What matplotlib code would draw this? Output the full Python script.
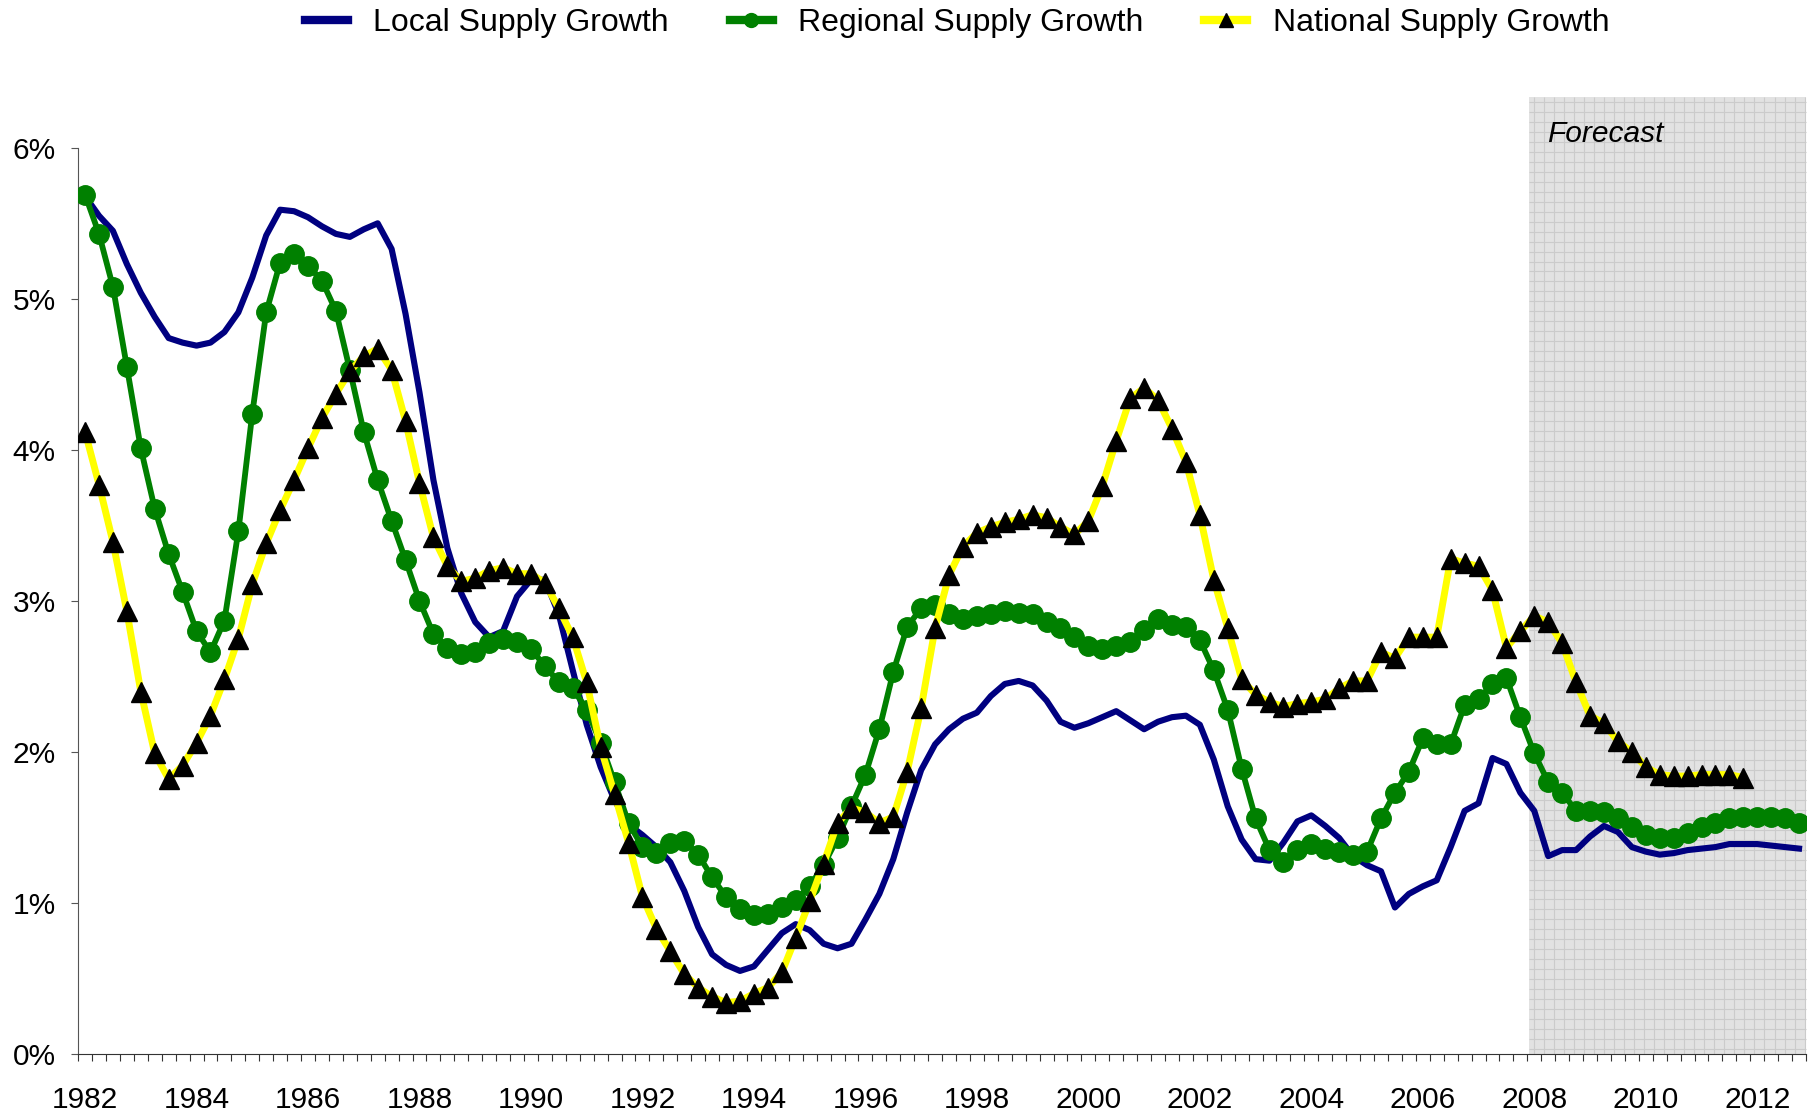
import numpy as np
import matplotlib
matplotlib.use('Agg')
import matplotlib.pyplot as plt
from matplotlib.lines import Line2D
from matplotlib.patches import Rectangle

plt.rcParams['font.family'] = ['Liberation Sans', 'DejaVu Sans']

# quarterly series, 1982 Q1 .. 2012 Q4 (in %)
local_growth = [5.68, 5.55, 5.45, 5.23, 5.04, 4.88, 4.74, 4.71, 4.69, 4.71,
                4.78, 4.91, 5.14, 5.42, 5.59, 5.58, 5.54, 5.48, 5.43, 5.41,
                5.46, 5.50, 5.33, 4.90, 4.38, 3.80, 3.35, 3.05, 2.86, 2.76,
                2.80, 3.03, 3.14, 3.14, 2.91, 2.54, 2.18, 1.90, 1.68, 1.52,
                1.45, 1.37, 1.27, 1.08, 0.84, 0.66, 0.59, 0.55, 0.58, 0.69,
                0.80, 0.86, 0.82, 0.73, 0.70, 0.73, 0.89, 1.06, 1.29, 1.60,
                1.88, 2.05, 2.15, 2.22, 2.26, 2.37, 2.45, 2.47, 2.44, 2.34,
                2.20, 2.16, 2.19, 2.23, 2.27, 2.21, 2.15, 2.20, 2.23, 2.24,
                2.18, 1.95, 1.64, 1.42, 1.29, 1.28, 1.40, 1.54, 1.58, 1.51,
                1.43, 1.31, 1.25, 1.21, 0.97, 1.06, 1.11, 1.15, 1.37, 1.61,
                1.66, 1.96, 1.92, 1.73, 1.61, 1.31, 1.35, 1.35, 1.44, 1.51,
                1.47, 1.37, 1.34, 1.32, 1.33, 1.35, 1.36, 1.37, 1.39, 1.39,
                1.39, 1.38, 1.37, 1.36]

regional_growth = [5.69, 5.43, 5.08, 4.55, 4.01, 3.61, 3.31, 3.06, 2.80, 2.66,
                   2.87, 3.46, 4.24, 4.91, 5.24, 5.30, 5.22, 5.12, 4.92, 4.53,
                   4.12, 3.80, 3.53, 3.27, 3.00, 2.78, 2.69, 2.65, 2.66, 2.72,
                   2.75, 2.73, 2.68, 2.57, 2.46, 2.42, 2.28, 2.06, 1.80, 1.53,
                   1.37, 1.33, 1.40, 1.41, 1.32, 1.17, 1.04, 0.96, 0.92, 0.93,
                   0.97, 1.02, 1.11, 1.25, 1.43, 1.64, 1.85, 2.15, 2.53, 2.83,
                   2.95, 2.97, 2.91, 2.88, 2.90, 2.91, 2.93, 2.92, 2.91, 2.86,
                   2.82, 2.76, 2.70, 2.68, 2.70, 2.73, 2.81, 2.88, 2.84, 2.83,
                   2.74, 2.54, 2.28, 1.89, 1.56, 1.35, 1.27, 1.35, 1.39, 1.36,
                   1.34, 1.32, 1.34, 1.56, 1.73, 1.87, 2.09, 2.05, 2.05, 2.31,
                   2.35, 2.45, 2.49, 2.23, 1.99, 1.80, 1.73, 1.61, 1.61, 1.60,
                   1.56, 1.50, 1.45, 1.43, 1.43, 1.46, 1.50, 1.53, 1.56, 1.57,
                   1.57, 1.57, 1.56, 1.53]

# national stops at 2011 Q4
national_growth = [4.12, 3.77, 3.39, 2.93, 2.40, 1.99, 1.82, 1.91, 2.06, 2.24,
                   2.48, 2.75, 3.11, 3.38, 3.60, 3.80, 4.01, 4.21, 4.37, 4.52,
                   4.62, 4.67, 4.53, 4.19, 3.78, 3.42, 3.23, 3.13, 3.15, 3.20,
                   3.22, 3.18, 3.18, 3.12, 2.95, 2.76, 2.46, 2.03, 1.72, 1.40,
                   1.04, 0.83, 0.68, 0.53, 0.44, 0.38, 0.34, 0.35, 0.40, 0.44,
                   0.54, 0.77, 1.01, 1.26, 1.53, 1.63, 1.60, 1.53, 1.57, 1.87,
                   2.29, 2.82, 3.17, 3.36, 3.45, 3.49, 3.52, 3.54, 3.57, 3.55,
                   3.49, 3.44, 3.53, 3.76, 4.06, 4.34, 4.41, 4.33, 4.14, 3.92,
                   3.57, 3.14, 2.82, 2.48, 2.38, 2.33, 2.30, 2.32, 2.33, 2.35,
                   2.42, 2.47, 2.47, 2.66, 2.62, 2.76, 2.76, 2.76, 3.28, 3.25,
                   3.23, 3.07, 2.69, 2.80, 2.90, 2.86, 2.72, 2.46, 2.24, 2.19,
                   2.07, 2.00, 1.90, 1.85, 1.84, 1.84, 1.85, 1.85, 1.85, 1.83]

year_labels = [str(y) for y in range(1982, 2013, 2)]
y_labels = ['0%', '1%', '2%', '3%', '4%', '5%', '6%']

n_q = len(local_growth)
xq = np.arange(n_q)
y_top = 6.335
forecast_start = 103.6

fig = plt.figure(figsize=(18.16, 11.17), dpi=100)
ax = fig.add_axes([0.0430, 0.0564, 0.9515, 0.8566])

# forecast shading with fine grid
x_end = n_q - 0.5
ax.add_patch(Rectangle((forecast_start, 0), x_end - forecast_start, y_top,
                       facecolor='#e2e2e2', edgecolor='none', zorder=0.2, clip_on=False))
gx = np.arange(forecast_start + 0.36, x_end, 0.72)
gy = np.arange(0.033, y_top, 0.066)
ax.vlines(gx, 0, y_top, color='#cbcbcb', lw=0.8, zorder=0.3, clip_on=False)
ax.hlines(gy, forecast_start, x_end, color='#cbcbcb', lw=0.8, zorder=0.3, clip_on=False)
ax.text(104.9, 6.09, 'Forecast', fontsize=21.5, style='italic', va='center', ha='left')

# series
ax.plot(xq, local_growth, color='#000080', lw=4.4, zorder=3)
ax.plot(xq, regional_growth, color='#008000', lw=4.2, marker='o', ms=14,
        mec='#008000', mfc='#008000', zorder=4)
ax.plot(xq[:len(national_growth)], national_growth, color='#ffff00', lw=5,
        marker='^', ms=15, mfc='black', mec='black', zorder=5)

ax.set_xlim(-0.5, n_q - 0.5)
ax.set_ylim(0, y_top)

# axes styling
for s in ['top', 'right']:
    ax.spines[s].set_visible(False)
ax.spines['left'].set_bounds(0, 6)
ax.spines['left'].set_color('#555555')
ax.spines['bottom'].set_color('#333333')

ax.set_yticks(range(7))
ax.set_yticklabels(y_labels)
ax.tick_params(axis='y', length=5, pad=11, labelsize=21.5, color='#555555')

# quarterly ticks on boundaries, year labels every 8 quarters
ax.set_xticks(np.arange(-0.5, n_q, 1))
ax.set_xticklabels([])
ax.tick_params(axis='x', which='major', length=5, color='#333333')
ax.set_xticks(np.arange(0, n_q, 8), minor=True)
ax.set_xticklabels(year_labels, minor=True)
ax.tick_params(axis='x', which='minor', length=0, pad=23, labelsize=21.5)

# legend
handles = [Line2D([], [], color='#000080', lw=6),
           Line2D([], [], color='#008000', lw=6, marker='o', ms=10),
           Line2D([], [], color='#ffff00', lw=6, marker='^', ms=10, mfc='black', mec='black')]
labels = ['Local Supply Growth', 'Regional Supply Growth', 'National Supply Growth']
fig.legend(handles, labels, loc='center', bbox_to_anchor=(0.527, 0.979), ncol=3,
           frameon=False, fontsize=23, handlelength=1.35, handletextpad=0.8,
           columnspacing=1.9)

fig.savefig('out.png', dpi=100)
